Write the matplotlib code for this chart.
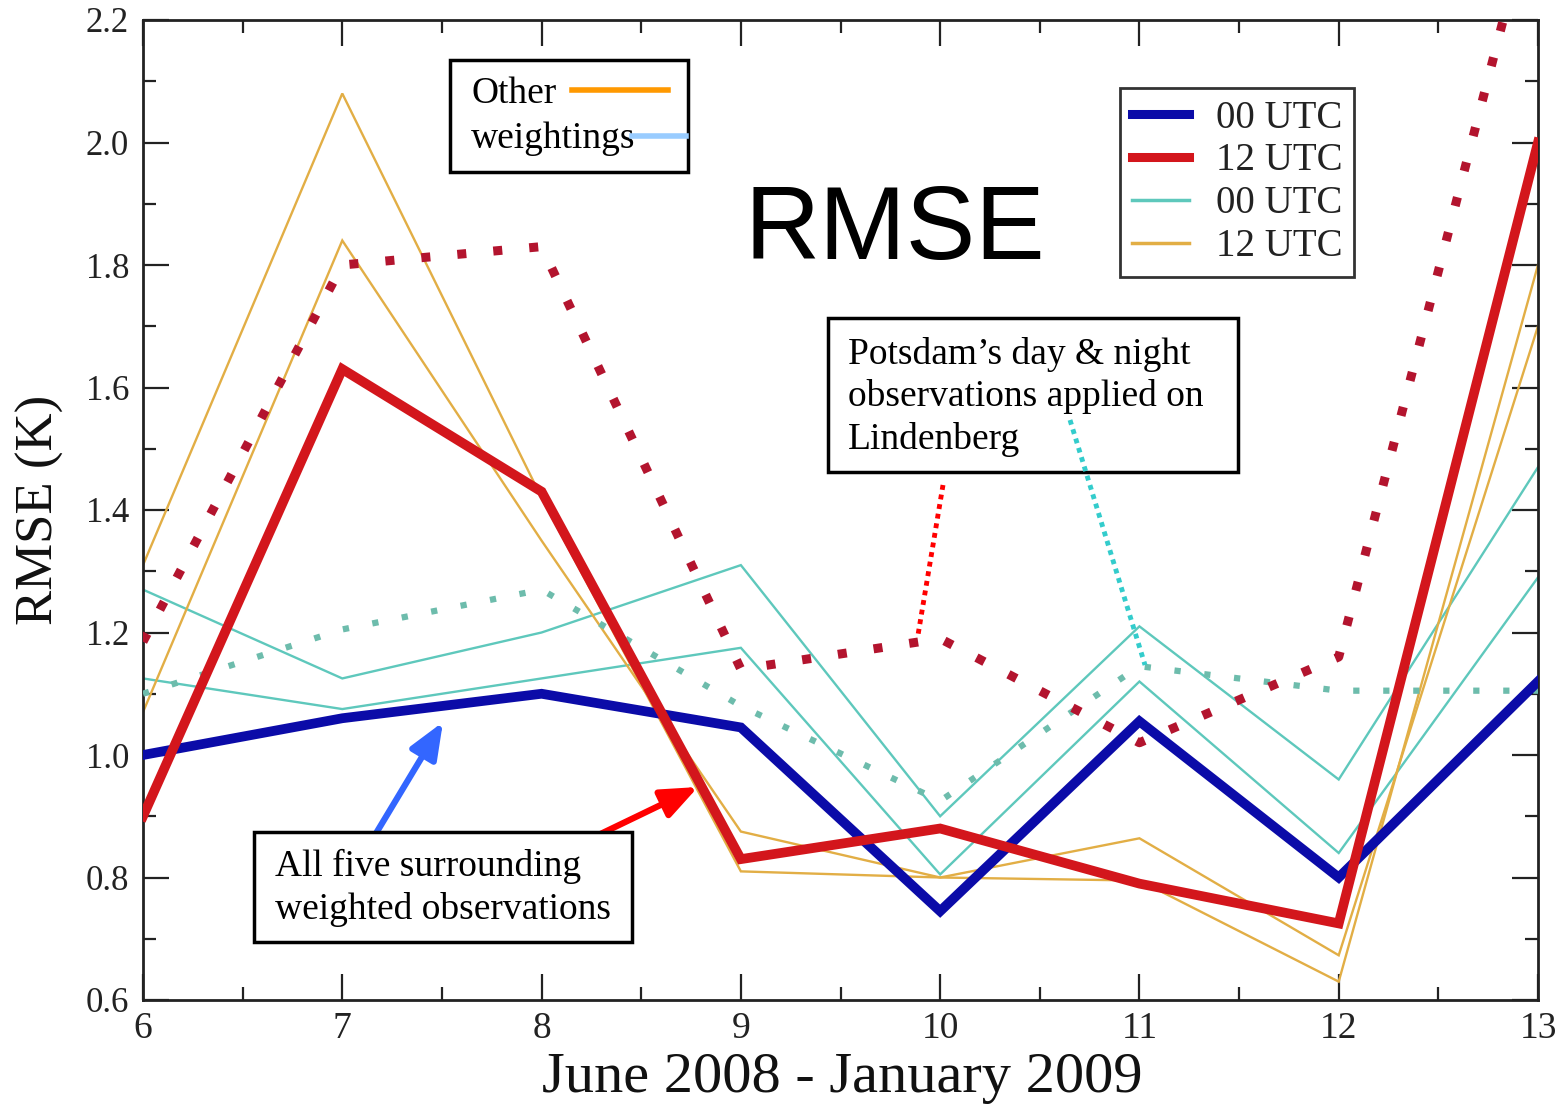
import matplotlib
matplotlib.use("Agg")
import matplotlib.pyplot as plt
from matplotlib.lines import Line2D
from matplotlib.patches import Rectangle
from matplotlib.ticker import MultipleLocator

# Monthly RMSE values, June 2008 (6) to January 2009 (13)
months = [6, 7, 8, 9, 10, 11, 12, 13]

rmse_00utc = [1.00, 1.06, 1.10, 1.045, 0.745, 1.055, 0.80, 1.12]
rmse_12utc = [0.90, 1.63, 1.43, 0.83, 0.88, 0.79, 0.725, 2.00]

other_00utc_a = [1.27, 1.125, 1.20, 1.31, 0.90, 1.21, 0.96, 1.47]
other_00utc_b = [1.125, 1.075, 1.125, 1.175, 0.805, 1.12, 0.84, 1.29]
other_12utc_a = [1.31, 2.08, 1.42, 0.81, 0.80, 0.795, 0.63, 1.80]
other_12utc_b = [1.07, 1.84, 1.35, 0.875, 0.80, 0.864, 0.673, 1.70]

potsdam_00utc = [1.10, 1.205, 1.27, 1.08, 0.925, 1.145, 1.105, 1.105]
potsdam_12utc = [1.185, 1.80, 1.83, 1.14, 1.19, 1.02, 1.16, 2.42]

x_ticks = [6, 7, 8, 9, 10, 11, 12, 13]
y_ticks = [0.6, 0.8, 1.0, 1.2, 1.4, 1.6, 1.8, 2.0, 2.2]

SERIF = ["Liberation Serif", "DejaVu Serif"]
SANS = ["Liberation Sans", "DejaVu Sans"]

W, H = 1559, 1114


def fx(px):
    return px / W


def fy(py):
    return 1 - py / H


fig = plt.figure(figsize=(W / 100, H / 100), dpi=100)
ax = fig.add_axes([fx(143), fy(1000), (1538 - 143) / W, (1000 - 20) / H])

c_blue = "#0b0ba8"
c_red = "#d3161c"
c_cyan = "#5ec8bc"
c_orange = "#e2ae45"
c_reddot = "#b3142e"
c_cyandot = "#6dbcac"

# thin lines: other weightings
for ys in (other_00utc_a, other_00utc_b):
    ax.plot(months, ys, color=c_cyan, lw=1.7, zorder=2, solid_joinstyle="miter")
for ys in (other_12utc_a, other_12utc_b):
    ax.plot(months, ys, color=c_orange, lw=1.7, zorder=2, solid_joinstyle="miter")

# dotted lines: Potsdam observations applied on Lindenberg
ax.plot(months, potsdam_00utc, color=c_cyandot, lw=4.5, ls=(0, (1, 3.8)),
        dash_capstyle="butt", zorder=3)
ax.plot(months, potsdam_12utc, color=c_reddot, lw=6.5, ls=(0, (1, 3.0)),
        dash_capstyle="butt", zorder=3)

# thick lines: five surrounding weighted observations
ax.plot(months, rmse_00utc, color=c_blue, lw=7, zorder=4, solid_joinstyle="miter")
ax.plot(months, rmse_12utc, color=c_red, lw=7, zorder=5, solid_joinstyle="miter")

ax.set_xlim(6, 13)
ax.set_ylim(0.6, 2.2)
ax.set_xticks(x_ticks)
ax.set_yticks(y_ticks)
ax.set_yticklabels([f"{v:.1f}" for v in y_ticks])
ax.xaxis.set_minor_locator(MultipleLocator(0.5))
ax.yaxis.set_minor_locator(MultipleLocator(0.1))
ax.tick_params(which="major", direction="in", top=True, right=True,
               length=19, width=1.6, color="#222222")
ax.tick_params(which="minor", direction="in", top=True, right=True,
               length=9.5, width=1.6, color="#222222")
ax.tick_params(axis="y", which="major", labelsize=25, pad=10)
ax.tick_params(axis="x", which="major", labelsize=27, pad=8)
for lab in ax.get_xticklabels() + ax.get_yticklabels():
    lab.set_family(SERIF)
    lab.set_color("#222222")
for sp in ax.spines.values():
    sp.set_linewidth(2.0)
    sp.set_color("#222222")

fig.text(fx(842), fy(1078), "June 2008 - January 2009", family=SERIF,
         fontsize=42, ha="center", va="center", color="#111111")
fig.text(fx(40), fy(510), "RMSE (K)", family=SERIF, fontsize=38,
         rotation=90, ha="center", va="center", color="#111111")

fig.text(fx(895), fy(233), "RMSE", family=SANS, fontsize=75,
         ha="center", va="center", color="black")

# legend
handles = [
    Line2D([], [], color=c_blue, lw=6.5),
    Line2D([], [], color=c_red, lw=6.5),
    Line2D([], [], color=c_cyan, lw=2.5),
    Line2D([], [], color=c_orange, lw=2.5),
]
labels = ["00 UTC", "12 UTC", "00 UTC", "12 UTC"]
leg = ax.legend(handles, labels, loc="upper left",
                bbox_to_anchor=(fx(1120), fy(88)), bbox_transform=fig.transFigure,
                borderaxespad=0, frameon=True, fancybox=False, framealpha=1,
                edgecolor="#333333", prop={"family": SERIF, "size": 28},
                handlelength=1.47, handletextpad=0.69, labelspacing=0.15,
                borderpad=0.3)
leg.get_frame().set_linewidth(2.0)
for t in leg.get_texts():
    t.set_color("#222222")


def frame_box(x0, y0, x1, y1):
    fig.patches.append(Rectangle((fx(x0), fy(y1)), fx(x1) - fx(x0), fy(y0) - fy(y1),
                                 transform=fig.transFigure, facecolor="white",
                                 edgecolor="black", lw=2.5, zorder=6))


# "Other weightings" box
frame_box(450, 60, 688, 172)
fig.text(fx(471), fy(94), "Other", family=SERIF, fontsize=27,
         ha="left", va="center", zorder=7)
fig.text(fx(471), fy(139), "weightings", family=SERIF, fontsize=27,
         ha="left", va="center", zorder=7)
fig.add_artist(Line2D([fx(572), fx(668)], [fy(90), fy(90)], color="#ff9900",
                      lw=4, transform=fig.transFigure, zorder=8))
fig.add_artist(Line2D([fx(632), fx(686)], [fy(136), fy(136)], color="#99ccff",
                      lw=4, transform=fig.transFigure, zorder=8))

# Potsdam box
frame_box(828, 318, 1238, 472)
fig.text(fx(848), fy(397), "Potsdam\u2019s day & night\nobservations applied on\nLindenberg",
         family=SERIF, fontsize=27, ha="left", va="center", linespacing=1.27, zorder=7)
fig.add_artist(Line2D([fx(943), fx(918)], [fy(485), fy(635)], color="#ff0000",
                      lw=3.5, ls=(0, (1, 1)), dash_capstyle="butt",
                      transform=fig.transFigure, zorder=8))
fig.add_artist(Line2D([fx(1070), fx(1145)], [fy(420), fy(665)], color="#33cccc",
                      lw=3.5, ls=(0, (1, 1)), dash_capstyle="butt",
                      transform=fig.transFigure, zorder=8))

# "All five surrounding" box
frame_box(254, 832, 632, 942)
fig.text(fx(275), fy(888), "All five surrounding\nweighted observations",
         family=SERIF, fontsize=27, ha="left", va="center", linespacing=1.27, zorder=7)

for (xa, ya), (xb, yb), col in [((375, 835), (443, 722), "#3366ff"),
                                ((588, 840), (698, 787), "#ff0000")]:
    ax.annotate("", xy=(fx(xb), fy(yb)), xytext=(fx(xa), fy(ya)),
                xycoords="figure fraction", textcoords="figure fraction",
                arrowprops=dict(arrowstyle="-|>,head_length=1.1,head_width=0.45",
                                color=col, lw=4.5, shrinkA=0, shrinkB=0,
                                mutation_scale=20),
                zorder=9, annotation_clip=False)

fig.savefig("out.png", dpi=100)
